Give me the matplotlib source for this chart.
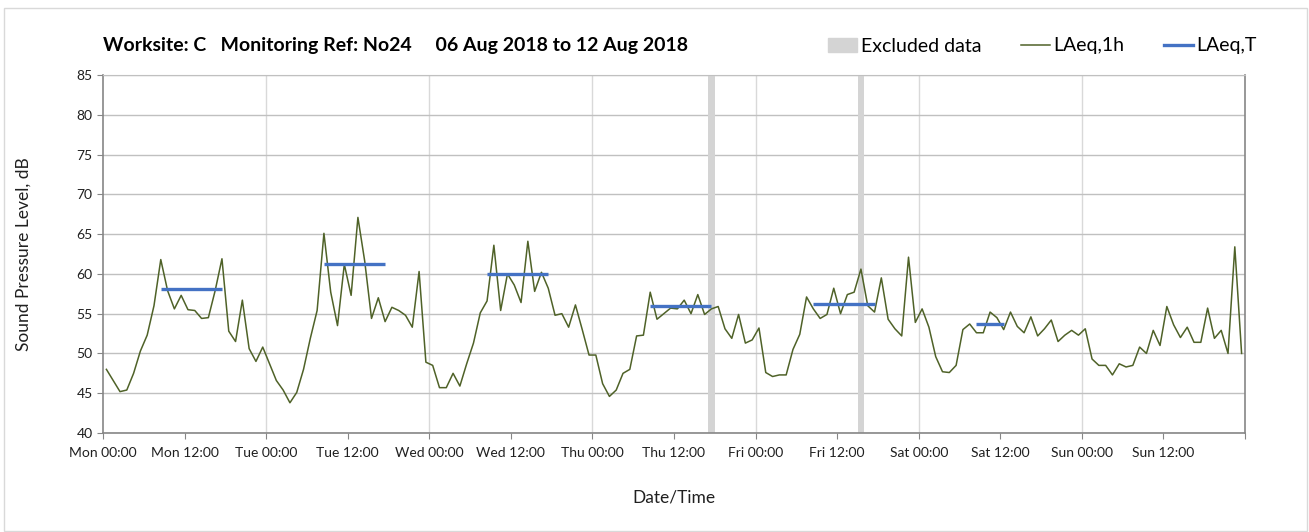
import matplotlib
matplotlib.use('Agg')
import matplotlib.pyplot as plt
import numpy as np
from matplotlib.lines import Line2D
from matplotlib.patches import Patch

plt.rcParams['font.family'] = ['Lato', 'DejaVu Sans']

# hourly LAeq,1h values, Mon 00:00 -> Sun 23:00
laeq_1h = [
    48.0, 46.6, 45.2, 45.4, 47.5, 50.3, 52.3, 56.0, 61.8, 57.9, 55.6, 57.3,
    55.5, 55.4, 54.4, 54.5, 57.9, 61.9, 52.8, 51.5, 56.7, 50.6, 49.0, 50.8,
    48.7, 46.6, 45.4, 43.8, 45.1, 48.0, 51.9, 55.4, 65.1, 57.7, 53.5, 61.2,
    57.3, 67.1, 61.6, 54.4, 57.0, 54.0, 55.8, 55.4, 54.8, 53.3, 60.3, 48.9,
    48.5, 45.7, 45.7, 47.5, 45.9, 48.7, 51.3, 55.1, 56.6, 63.6, 55.4, 60.0,
    58.6, 56.4, 64.1, 57.8, 60.2, 58.2, 54.8, 55.0, 53.3, 56.1, 53.0, 49.8,
    49.8, 46.2, 44.6, 45.4, 47.5, 48.0, 52.2, 52.3, 57.7, 54.3, 55.0, 55.7,
    55.6, 56.7, 55.0, 57.4, 54.9, 55.6, 55.9, 53.1, 51.9, 54.9, 51.3, 51.7,
    53.2, 47.6, 47.1, 47.3, 47.3, 50.5, 52.4, 57.1, 55.6, 54.4, 54.9, 58.2,
    55.0, 57.4, 57.7, 60.6, 56.0, 55.2, 59.5, 54.3, 53.1, 52.2, 62.1, 53.9,
    55.6, 53.3, 49.6, 47.7, 47.6, 48.5, 53.0, 53.7, 52.6, 52.6, 55.2, 54.5,
    53.0, 55.2, 53.4, 52.6, 54.6, 52.2, 53.1, 54.2, 51.5, 52.3, 52.9, 52.3,
    53.1, 49.3, 48.5, 48.5, 47.3, 48.7, 48.3, 48.5, 50.8, 50.0, 52.9, 51.0,
    55.9, 53.6, 52.0, 53.3, 51.4, 51.4, 55.7, 51.9, 52.9, 50.0, 63.4, 50.0,
]

# LAeq,T periods (first and last hour index) and levels
period_start = [8, 32, 56, 80, 104, 128]
period_end = [17, 41, 65, 89, 113, 132]
laeq_t = [58.1, 61.3, 60.0, 56.0, 56.2, 53.7]

# excluded hours
excluded_hours = [89, 111]

days = ['Mon', 'Tue', 'Wed', 'Thu', 'Fri', 'Sat', 'Sun']

green = '#4f6228'
blue = '#4472c4'
grey_band = '#d4d4d4'

fig = plt.figure(figsize=(13.09, 5.32), dpi=100)
ax = fig.add_axes([103 / 1309, 1 - 433 / 532, (1245 - 103) / 1309, (433 - 75) / 532])

hours = np.arange(len(laeq_1h)) + 0.5
for h in excluded_hours:
    ax.axvspan(h, h + 1, color=grey_band, lw=0, zorder=1)
ax.plot(hours, laeq_1h, color=green, lw=1.1, zorder=3)
for s, e, v in zip(period_start, period_end, laeq_t):
    ax.plot([s + 0.5, e + 0.5], [v, v], color=blue, lw=2.4, zorder=4,
             solid_capstyle='butt')

ax.set_xlim(0, 168)
ax.set_ylim(40, 85)
ax.set_yticks(np.arange(40, 86, 5))
xt = np.arange(0, 169, 12)
labels = ['%s %s' % (days[int(t // 24)], '00:00' if t % 24 == 0 else '12:00') for t in xt[:-1]] + ['']
ax.set_xticks(xt)
ax.set_xticklabels(labels)
ax.tick_params(axis='both', direction='out', length=4, color='#868686', labelsize=10,
               labelcolor='#202020')
ax.tick_params(axis='x', pad=6)

ax.grid(axis='y', color='#c0c0c0', lw=1.0, zorder=0)
for d in range(1, 7):
    ax.axvline(d * 24, color='#d9d9d9', lw=1.0, zorder=0)
for sp in ['left', 'bottom', 'right']:
    ax.spines[sp].set_color('#868686')
    ax.spines[sp].set_linewidth(1.2)
ax.spines['top'].set_color('#c0c0c0')
ax.set_axisbelow(True)

ax.set_ylabel('Sound Pressure Level, dB', fontsize=12.5, color='#202020', labelpad=32)
ax.set_xlabel('Date/Time', fontsize=12.5, color='#202020', labelpad=22)

fig.text(103 / 1309, 1 - 45 / 532, 'Worksite: C   Monitoring Ref: No24     06 Aug 2018 to 12 Aug 2018',
         fontsize=14, fontweight='bold', va='center', ha='left', color='#000000')

handles = [Patch(color=grey_band, label='Excluded data'),
           Line2D([], [], color=green, lw=1.1, label='LAeq,1h'),
           Line2D([], [], color=blue, lw=2.4, label='LAeq,T')]
fig.legend(handles=handles, loc='center right', bbox_to_anchor=(1257 / 1309, 1 - 46 / 532),
           ncol=3, frameon=False, fontsize=14, handlelength=1.5, handletextpad=0.2,
           columnspacing=2.0, borderpad=0, borderaxespad=0)

# outer chart border
fig.patches.append(plt.Rectangle((4 / 1309, 1 / 532), 1303 / 1309, 523 / 532, transform=fig.transFigure,
                                 fill=False, edgecolor='#d9d9d9', lw=1.0))

fig.savefig('out.png', dpi=100)
